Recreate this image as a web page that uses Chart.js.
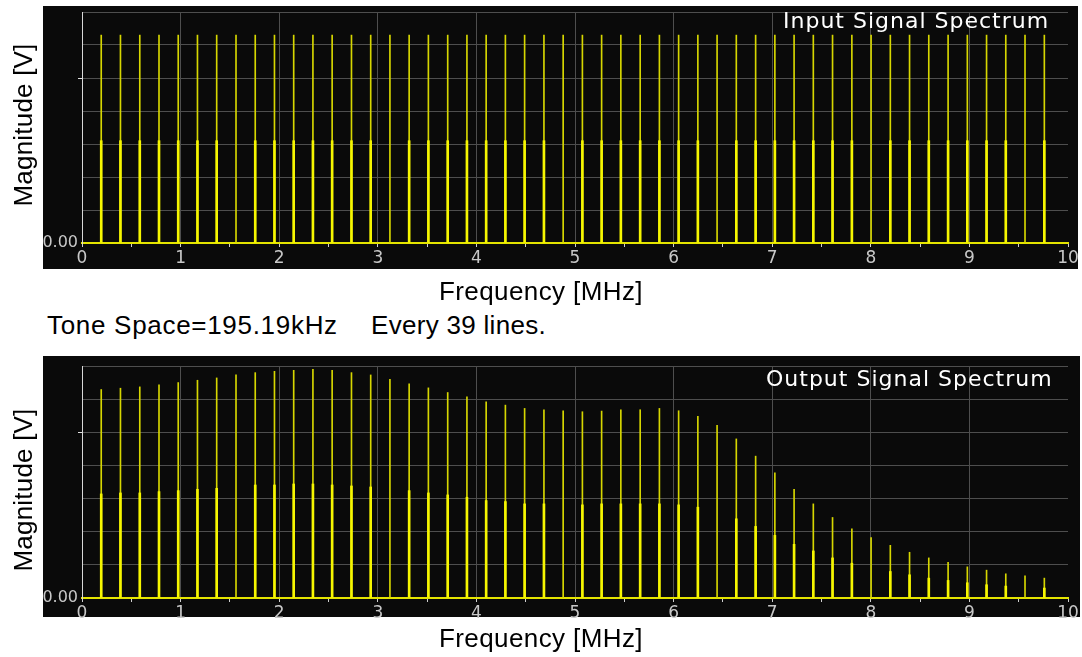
<!DOCTYPE html>
<html>
<head>
<meta charset="utf-8">
<script src="https://cdn.jsdelivr.net/npm/chart.js@4.4.1/dist/chart.umd.min.js"></script>
<style>
  html, body { margin: 0; padding: 0; background: #fff; width: 1082px; height: 657px; overflow: hidden; }
  .box { position: absolute; left: 0; width: 1082px; }
  #box1 { top: 0; height: 310px; }
  #box2 { top: 340px; height: 317px; }
  .note { position: absolute; top: 310px; font: 26px "Liberation Sans", Arial, sans-serif; color: #000; line-height: 30px; white-space: pre; }
</style>
</head>
<body>
<div class="box" id="box1"><canvas id="inputChart" width="1082" height="310"></canvas></div>
<div class="note" style="left:47px; letter-spacing:0.7px">Tone Space=195.19kHz</div>
<div class="note" style="left:371px; letter-spacing:0.3px">Every 39 lines.</div>
<div class="box" id="box2"><canvas id="outputChart" width="1082" height="317"></canvas></div>
<script>
// Tone frequencies (MHz), spaced 195.19 kHz apart
const toneFreqMHz = [
  0.195, 0.390, 0.586, 0.781, 0.976, 1.171, 1.366, 1.562, 1.757, 1.952,
  2.147, 2.342, 2.537, 2.733, 2.928, 3.123, 3.318, 3.513, 3.709, 3.904,
  4.099, 4.294, 4.489, 4.685, 4.880, 5.075, 5.270, 5.465, 5.661, 5.856,
  6.051, 6.246, 6.441, 6.636, 6.832, 7.027, 7.222, 7.417, 7.612, 7.808,
  8.003, 8.198, 8.393, 8.588, 8.784, 8.979, 9.174, 9.369, 9.564, 9.760
];

// Input spectrum: line peak and the brighter lower trace (V)
const inputPeak = [
  0.630, 0.630, 0.630, 0.630, 0.630, 0.630, 0.630, 0.630, 0.630, 0.630,
  0.630, 0.630, 0.630, 0.630, 0.630, 0.630, 0.630, 0.630, 0.630, 0.630,
  0.630, 0.630, 0.630, 0.630, 0.630, 0.630, 0.630, 0.630, 0.630, 0.630,
  0.630, 0.630, 0.630, 0.630, 0.630, 0.630, 0.630, 0.630, 0.630, 0.630,
  0.630, 0.630, 0.630, 0.630, 0.630, 0.630, 0.630, 0.630, 0.630, 0.630
];
const inputLower = [
  0.310, 0.310, 0.310, 0.310, 0.310, 0.310, 0.310, null,  0.310, 0.310,
  0.310, 0.310, 0.310, 0.310, 0.310, null,  0.310, 0.310, 0.310, 0.310,
  0.310, 0.310, 0.310, 0.310, null,  0.310, 0.310, 0.310, 0.310, 0.310,
  0.310, 0.310, null,  0.310, 0.310, 0.310, 0.310, 0.310, 0.310, 0.310,
  null,  0.310, 0.310, 0.310, 0.310, 0.310, 0.310, 0.310, null,  0.310
];

// Output spectrum: line peak and the brighter lower trace (V)
const outputPeak = [
  0.629, 0.633, 0.637, 0.643, 0.650, 0.657, 0.664, 0.673, 0.680, 0.684,
  0.687, 0.690, 0.687, 0.680, 0.673, 0.660, 0.646, 0.634, 0.620, 0.607,
  0.592, 0.582, 0.572, 0.568, 0.565, 0.562, 0.564, 0.568, 0.568, 0.572,
  0.565, 0.548, 0.521, 0.480, 0.428, 0.378, 0.328, 0.284, 0.243, 0.209,
  0.182, 0.159, 0.138, 0.121, 0.108, 0.094, 0.084, 0.073, 0.067, 0.060
];
const outputLower = [
  0.314, 0.317, 0.317, 0.321, 0.324, 0.328, 0.331, null,  0.341, 0.341,
  0.344, 0.344, 0.341, 0.338, 0.335, null,  0.324, 0.317, 0.311, 0.304,
  0.294, 0.291, 0.284, 0.284, null,  0.281, 0.284, 0.284, 0.284, 0.284,
  0.281, 0.274, null,  0.239, 0.216, 0.189, 0.162, 0.142, 0.121, 0.105,
  null,  0.080, 0.070, 0.060, 0.053, 0.046, 0.040, 0.036, null,  0.030
];

const xTickStep = 0.5;
const yGridStep = 0.1;
const yTickLabel = '0.00';
const xAxisTitle = 'Frequency [MHz]';
const yAxisTitle = 'Magnitude [V]';

const PANEL_BG = '#0a0a0a';
const GRID = '#4e4e4e';
const TICK_TEXT = '#c8c8c8';
const TITLE_FONT = '26px "Liberation Sans", Arial, sans-serif';

// Dark panel behind the plot, in-plot caption and the axis titles
const panelPlugin = {
  id: 'panel',
  beforeDraw(chart, args, o) {
    const { ctx, chartArea: a } = chart;
    ctx.save();
    ctx.fillStyle = PANEL_BG;
    const top = a.top - o.above;
    ctx.fillRect(o.left, top, o.right - o.left, a.bottom + o.below - top);
    ctx.restore();
  },
  afterDatasetsDraw(chart, args, o) {
    const { ctx, chartArea: a } = chart;
    ctx.save();
    ctx.fillStyle = '#ffffff';
    ctx.font = '22px "DejaVu Sans", sans-serif';
    ctx.letterSpacing = '1px';
    ctx.textAlign = 'left';
    ctx.textBaseline = 'alphabetic';
    ctx.fillText(o.caption, o.captionX, a.top + o.captionDy);
    ctx.restore();
  },
  afterDraw(chart, args, o) {
    const { ctx } = chart;
    ctx.save();
    ctx.fillStyle = '#000';
    ctx.font = TITLE_FONT;
    ctx.textAlign = 'center';
    ctx.textBaseline = 'middle';
    ctx.letterSpacing = '0.4px';
    ctx.fillText(xAxisTitle, o.xTitleX, o.xTitleY);
    ctx.letterSpacing = '0.2px';
    ctx.translate(o.yTitleX, o.yTitleY);
    ctx.rotate(-Math.PI / 2);
    ctx.fillText(yAxisTitle, 0, 0);
    ctx.restore();
  }
};

function toPoints(values) {
  return toneFreqMHz.map((f, i) => ({ x: f, y: values[i] }));
}

function makeChart(id, peak, lower, cfg) {
  return new Chart(document.getElementById(id), {
    type: 'bar',
    data: {
      datasets: [
        { data: toPoints(lower), backgroundColor: '#f6f600', barThickness: 2, grouped: false, borderWidth: 0 },
        { data: toPoints(peak),  backgroundColor: '#d6d600', barThickness: 1, grouped: false, borderWidth: 0 }
      ]
    },
    options: {
      responsive: false,
      animation: false,
      events: [],
      layout: { padding: { top: cfg.padTop, right: 14, left: 0, bottom: cfg.padBottom } },
      plugins: {
        legend: { display: false },
        tooltip: { enabled: false },
        panel: cfg.panel
      },
      scales: {
        x: {
          type: 'linear',
          min: 0, max: 10,
          offset: false,
          afterFit(s) { s.height = cfg.xHeight; },
          border: { color: '#e4e400', width: 2 },
          grid: {
            offset: false,
            color: c => (c.tick && Number.isInteger(c.tick.value) && c.tick.value > 0 && c.tick.value < 10) ? GRID : 'rgba(0,0,0,0)',
            tickColor: '#d0d0d0',
            tickLength: 4,
            lineWidth: 1
          },
          ticks: {
            stepSize: xTickStep,
            autoSkip: false,
            maxRotation: 0,
            padding: 1,
            color: TICK_TEXT,
            font: { family: '"DejaVu Sans", sans-serif', size: 17 },
            callback: v => Number.isInteger(v) ? String(v) : ''
          },
          title: { display: false }
        },
        y: {
          min: 0, max: 0.7,
          afterFit(s) { s.width = 82; },
          border: { color: '#d8d8d8', width: 1 },
          grid: {
            color: c => (c.tick && c.tick.value > 0.001) ? GRID : 'rgba(0,0,0,0)',
            tickColor: c => (c.tick && Math.abs(c.tick.value - 0.5) < 1e-6) ? '#e0e0e0' : 'rgba(0,0,0,0)',
            tickLength: 4,
            lineWidth: 1
          },
          ticks: {
            stepSize: yGridStep,
            padding: 0,
            color: TICK_TEXT,
            font: { family: '"DejaVu Sans", sans-serif', size: 16 },
            callback: v => (Math.abs(v) < 1e-9 ? yTickLabel : '')
          },
          title: { display: false }
        }
      }
    },
    plugins: [panelPlugin]
  });
}

makeChart('inputChart', inputPeak, inputLower, {
  padTop: 12, padBottom: 2, xHeight: 65,
  panel: { left: 43, right: 1078, above: 6, below: 26,
           caption: 'Input Signal Spectrum', captionX: 783, captionDy: 16,
           xTitleX: 541, xTitleY: 293, yTitleX: 25, yTitleY: 125 }
});

makeChart('outputChart', outputPeak, outputLower, {
  padTop: 26, padBottom: 1, xHeight: 58,
  panel: { left: 43, right: 1080, above: 10, below: 19,
           caption: 'Output Signal Spectrum', captionX: 766, captionDy: 20,
           xTitleX: 541, xTitleY: 300, yTitleX: 25, yTitleY: 150 }
});
</script>
</body>
</html>
